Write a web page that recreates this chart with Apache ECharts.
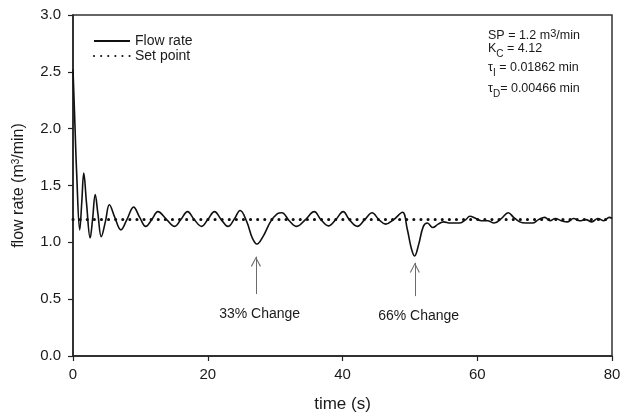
<!DOCTYPE html>
<html lang="en">

<head>
  <meta charset="UTF-8">
  <title>Flow rate</title>
  <style>
    html,
    body {
      width: 100%;
      height: 100%;
      padding: 0;
      margin: 0;
      background: #fff;
    }

    #chart {
      width: 622px;
      height: 413px;
    }
  </style>
</head>

<body>
  <div id="chart"></div>

  <script src="https://cdn.jsdelivr.net/npm/echarts@6/dist/echarts.min.js"></script>
  <script>
    // time (s) and flow rate (m3/min)
    var flowTime = [0, 0.25, 0.55, 1.0, 1.3, 1.6, 2.0, 2.55, 2.9, 3.3, 3.7, 4.2, 4.8, 5.4, 6.2, 7.1, 8.0, 9.0, 9.9, 10.8,
      11.7, 12.6, 13.9, 15.1, 16.0, 17.0, 18.0, 19.1, 20.0, 21.0, 22.0, 23.0, 23.9, 24.8, 25.8, 26.6, 27.3, 28.2, 29.3,
      30.3, 31.0, 32.1, 33.2, 34.5, 35.8, 36.8, 37.9, 39.0, 40.1, 41.0, 42.2, 43.3, 44.4, 45.4, 46.4, 47.6, 48.9, 49.6,
      50.2, 50.7, 51.3, 52.0, 52.6, 53.4, 54.2, 55.0, 56.0, 57.4, 58.3, 58.9, 59.8, 60.6, 61.5, 62.5, 63.6, 64.6, 65.4,
      66.3, 67.2, 68.2, 69.1, 70.0, 70.8, 71.6, 72.5, 73.4, 74.3, 75.2, 76.1, 77.0, 77.9, 78.8, 79.6, 80];
    var flowRate = [2.52, 2.1, 1.6, 1.11, 1.35, 1.61, 1.35, 1.04, 1.2, 1.42, 1.25, 1.05, 1.18, 1.33, 1.22, 1.11, 1.2, 1.31, 1.22, 1.14,
      1.2, 1.27, 1.2, 1.14, 1.2, 1.27, 1.2, 1.14, 1.2, 1.27, 1.2, 1.14, 1.2, 1.28, 1.18, 1.04, 0.985, 1.05, 1.18,
      1.25, 1.26, 1.19, 1.14, 1.2, 1.27, 1.2, 1.145, 1.2, 1.27, 1.2, 1.14, 1.2, 1.26, 1.2, 1.16, 1.2, 1.265, 1.12,
      0.95, 0.88, 0.98, 1.14, 1.17, 1.13, 1.16, 1.18, 1.17, 1.17, 1.2, 1.23, 1.21, 1.19, 1.19, 1.17, 1.21, 1.26, 1.22,
      1.18, 1.17, 1.17, 1.2, 1.22, 1.19, 1.21, 1.19, 1.18, 1.21, 1.19, 1.2, 1.18, 1.21, 1.19, 1.22, 1.21];

    var setPointTime = [0, 80];
    var setPointValue = [1.2, 1.2];

    // disturbance annotations: arrow x, arrow bottom/top, label position
    var changeLabels = ['33% Change', '66% Change'];
    var changeTime = [27.15, 50.74];
    var arrowFrom = [0.545, 0.527];
    var arrowTo = [0.874, 0.82];
    var labelTime = [27.7, 51.3];
    var labelValue = [0.37, 0.355];

    var xTicks = { min: 0, max: 80, interval: 20 };
    var yTicks = { min: 0, max: 3, interval: 0.5 };

    var font = '"Liberation Sans", Arial, sans-serif';
    var ink = '#1a1a1a';
    var chevron = 'path://M0,10 L5,0 L10,10 L9,10.7 L5,2.2 L1,10.7 Z';

    var chart = echarts.init(document.getElementById('chart'));

    var flowData = flowTime.map(function (t, i) { return [t, flowRate[i]]; });
    var spData = setPointTime.map(function (t, i) { return [t, setPointValue[i]]; });

    // arrow shafts as mark lines, heads and captions as mark points
    var arrows = changeTime.map(function (t, i) {
      return [{ coord: [t, arrowFrom[i]] }, { coord: [t, arrowTo[i]] }];
    });
    var heads = changeTime.map(function (t, i) {
      return {
        coord: [t, arrowTo[i]], symbol: chevron, symbolSize: [10, 10], symbolOffset: [0, '50%'],
        itemStyle: { color: '#6b6b6b' }, label: { show: false }
      };
    });
    var notes = changeLabels.map(function (s, i) {
      return { name: s, coord: [labelTime[i], labelValue[i]] };
    });

    function paramText(top, text) {
      return {
        type: 'text',
        left: 488,
        top: top,
        style: {
          text: text,
          fill: ink,
          font: '12.5px ' + font,
          rich: {
            sup: { fontSize: 11, fontFamily: font, verticalAlign: 'top', lineHeight: 16, color: ink },
            sub: { fontSize: 10, fontFamily: font, verticalAlign: 'bottom', lineHeight: 22, color: ink }
          }
        }
      };
    }

    chart.setOption({
      animation: false,
      textStyle: { fontFamily: font, color: ink },
      grid: {
        left: 73, right: 10, top: 15, bottom: 57,
        outerBoundsMode: 'none',
        show: true, borderColor: '#333', borderWidth: 1.5
      },
      legend: {
        orient: 'vertical',
        left: 88, top: 29,
        itemWidth: 36, itemHeight: 10, itemGap: 1,
        itemStyle: { opacity: 0 },
        textStyle: { fontSize: 14, color: ink, fontFamily: font },
        data: ['Flow rate', 'Set point']
      },
      xAxis: {
        type: 'value',
        min: xTicks.min, max: xTicks.max, interval: xTicks.interval,
        name: 'time (s)', nameLocation: 'middle', nameGap: 40,
        nameTextStyle: { fontSize: 17, color: ink },
        axisLine: { lineStyle: { color: '#222', width: 1.5 } },
        axisTick: { length: 5, lineStyle: { color: '#222', width: 1.2 } },
        axisLabel: { fontSize: 15, color: ink, margin: 11 },
        splitLine: { show: false }
      },
      yAxis: {
        type: 'value',
        min: yTicks.min, max: yTicks.max, interval: yTicks.interval,
        name: 'flow rate (m{sup|3}/min)', nameLocation: 'middle', nameGap: 46,
        nameTextStyle: {
          fontSize: 16, color: ink,
          rich: { sup: { fontSize: 10, verticalAlign: 'top', lineHeight: 14, color: ink } }
        },
        axisLine: { lineStyle: { color: '#222', width: 1.5 } },
        axisTick: { length: 5, lineStyle: { color: '#222', width: 1.2 } },
        axisLabel: {
          fontSize: 15, color: ink, margin: 12,
          formatter: function (v) { return v.toFixed(1); }
        },
        splitLine: { show: false }
      },
      graphic: [
        paramText(28, 'SP = 1.2 m{sup|3}/min'),
        paramText(42, 'K{sub|C} = 4.12'),
        paramText(61, 'τ{sub|I} = 0.01862 min'),
        paramText(82, 'τ{sub|D}= 0.00466 min')
      ],
      series: [
        {
          name: 'Flow rate',
          type: 'line',
          data: flowData,
          smooth: 0.4,
          symbol: 'none',
          lineStyle: { color: '#111', width: 1.6 },
          itemStyle: { color: '#111' },
          z: 3,
          markLine: {
            silent: true,
            symbol: 'none',
            lineStyle: { color: '#6b6b6b', width: 1, type: 'solid' },
            label: { show: false },
            data: arrows
          },
          markPoint: {
            silent: true,
            symbol: 'circle',
            symbolSize: 1,
            itemStyle: { color: 'rgba(0,0,0,0)' },
            label: { show: true, position: 'inside', formatter: '{b}', fontSize: 14, color: ink },
            data: notes.concat(heads)
          }
        },
        {
          name: 'Set point',
          type: 'line',
          data: spData,
          symbol: 'none',
          lineStyle: { color: '#111', width: 3, type: [0.1, 7], cap: 'round' },
          itemStyle: { color: '#111' },
          z: 2
        }
      ]
    });
  </script>
</body>

</html>
